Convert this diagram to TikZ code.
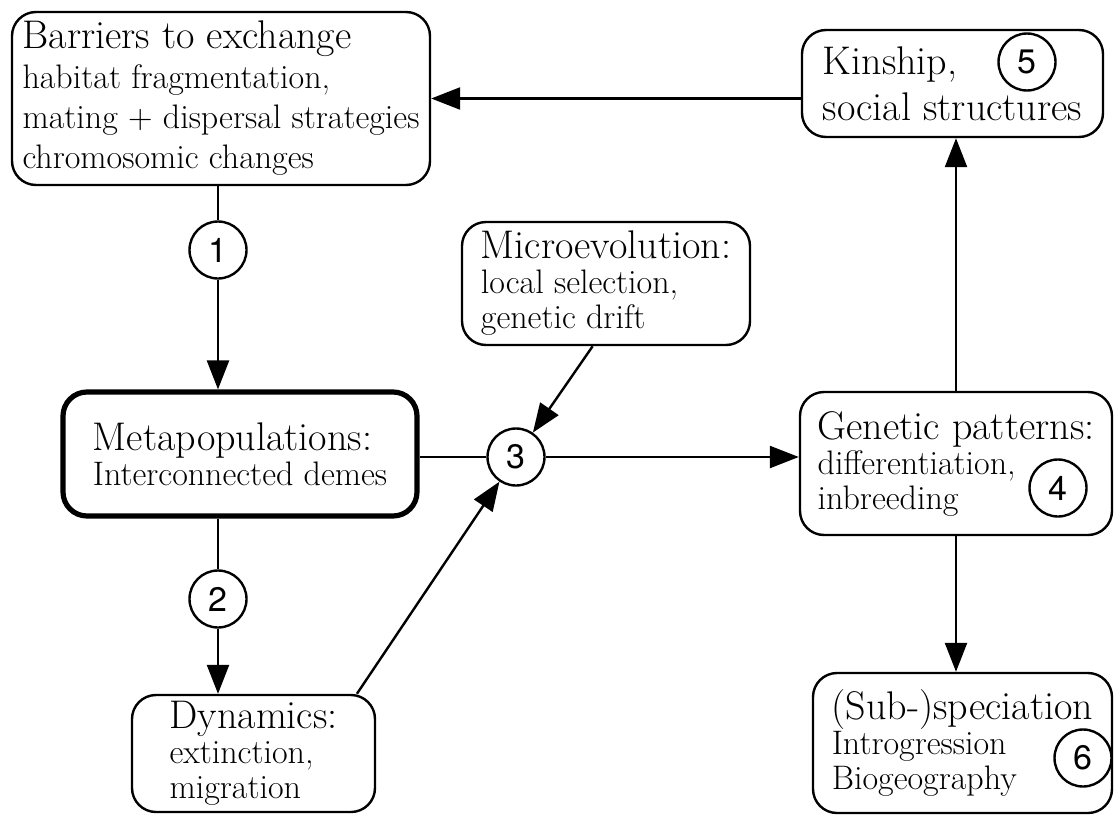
\documentclass[tikz,border=0pt]{standalone}
\usepackage{fontspec}
\newfontfamily\numfont{TeX Gyre Heros}
\usetikzlibrary{arrows.meta}

\newcommand{\hd}{\fontsize{20}{22}\selectfont}
\newcommand{\bd}{\fontsize{17}{17.5}\selectfont}

\begin{document}
\begin{tikzpicture}[x=0.5pt, y=-0.5pt, line width=1.2pt,
    box/.style={draw, rounded corners=12pt, align=left, inner sep=0pt, font=\bd},
    num/.style={draw, circle, minimum size=28.5pt, inner sep=0pt, font=\numfont\fontsize{17}{17}\selectfont},
    >={Triangle[length=14.5pt, width=11pt]}]
    \useasboundingbox (0,0) rectangle (1114,819);

    % left column
    \node[box, minimum width=209pt, minimum height=86.5pt] (barr) at (221,98.5)
        {{\hd Barriers to exchange}\\[2.5pt]
         habitat fragmentation,\\[2.5pt]
         mating + dispersal strategies\\[2.5pt]
         chromosomic changes};
    \node[box, line width=2.6pt, minimum width=177pt, minimum height=62pt] (meta) at (240,454)
        {{\hd Metapopulations:}\\ Interconnected demes};
    \node[box, minimum width=121.5pt, minimum height=58.5pt] (dyn) at (253.5,753.5)
        {{\hd Dynamics:}\\ extinction,\\ migration};

    % middle
    \node[box, minimum width=144pt, minimum height=61.5pt] (micro) at (606,283.5)
        {{\hd Microevolution:}\\ local selection,\\ genetic drift};

    % right column
    \node[box, font=\fontsize{20}{23}\selectfont, minimum width=150.5pt, minimum height=53.5pt] (kin) at (952.5,83.5)
        {Kinship,\\ social structures};
    \node[box, minimum width=156pt, minimum height=71.5pt] (gen) at (956,463.5)
        {{\hd Genetic patterns:}\\ differentiation,\\ inbreeding};
    \node[box, minimum width=149.5pt, minimum height=70pt] (spec) at (962.5,743)
        {{\hd (Sub-)speciation}\\ Introgression\\ Biogeography};

    % numbers
    \node[num] (n1) at (218,250) {1};
    \node[num] (n2) at (218,599) {2};
    \node[num] (n3) at (516,457) {3};
    \node[num] (n4) at (1058,488) {4};
    \node[num] (n5) at (1027,62) {5};
    \node[num] (n6) at (1083,758) {6};

    \draw (n1 |- barr.south) -- (n1);
    \draw[->] (n1) -- (n1 |- meta.north);
    \draw (n2 |- meta.south) -- (n2);
    \draw[->] (n2) -- (n2 |- dyn.north);
    \draw (n3 -| meta.east) -- (n3);
    \draw[->] (micro.258) -- (n3);
    \draw[->] (dyn.30) -- (n3);
    \draw[->] (n3) -- (n3 -| gen.west);
    \draw[->] (gen.north) -- (gen.north |- kin.south);
    \draw[->] (gen.south) -- (gen.south |- spec.north);
    \draw[->] (barr.east -| kin.west) -- (barr.east);
\end{tikzpicture}
\end{document}
